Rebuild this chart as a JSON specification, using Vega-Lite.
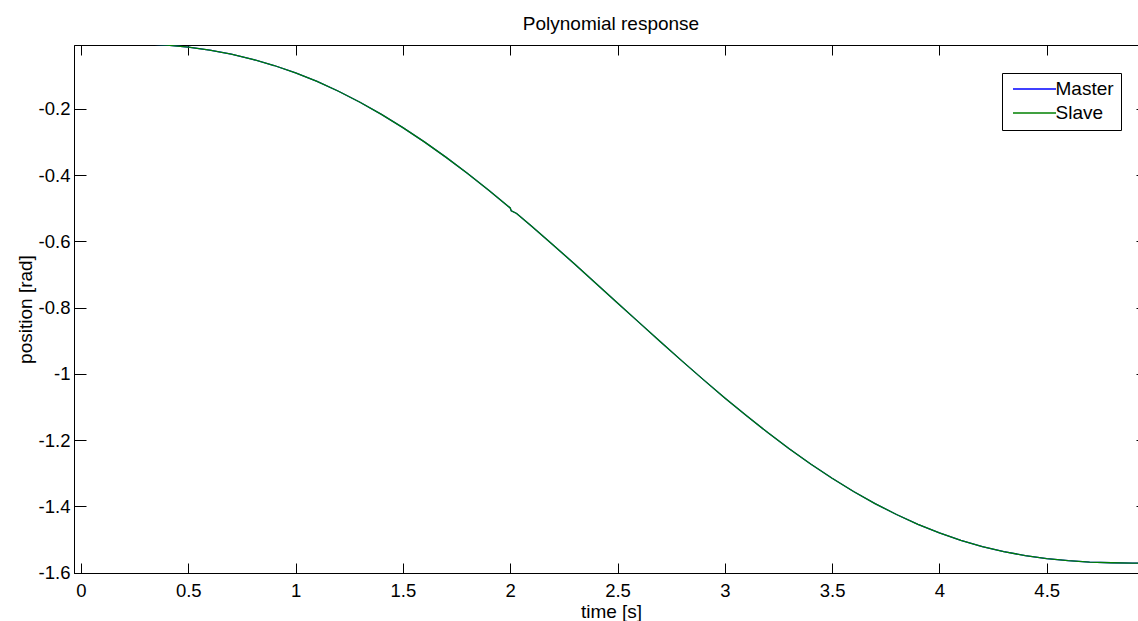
{
  "$schema": "https://vega.github.io/schema/vega-lite/v6.json",
  "width": 1074,
  "height": 528,
  "autosize": {"type": "none"},
  "padding": {"left": 74, "top": 45, "right": 0, "bottom": 48},
  "background": "white",
  "title": {"text": "Polynomial response", "fontSize": 19, "fontWeight": "normal", "font": "Liberation Sans", "color": "#000", "offset": 9, "anchor": "middle"},
  "config": {
    "view": {"stroke": "#000", "strokeWidth": 1},
    "axis": {"grid": false, "labelFont": "Liberation Sans", "titleFont": "Liberation Sans", "labelFontSize": 18.5, "titleFontSize": 19, "labelColor": "#000", "titleColor": "#000", "titleFontWeight": "normal", "domainColor": "#000", "tickColor": "#000", "labelFlush": false, "labelOverlap": false}
  },
  "data": {"values": [
    {"series": "Master", "t": 0, "pos": 0},
    {"series": "Master", "t": 0.1, "pos": -0.0001},
    {"series": "Master", "t": 0.2, "pos": -0.0009},
    {"series": "Master", "t": 0.3, "pos": -0.0031},
    {"series": "Master", "t": 0.4, "pos": -0.0071},
    {"series": "Master", "t": 0.5, "pos": -0.0134},
    {"series": "Master", "t": 0.6, "pos": -0.0225},
    {"series": "Master", "t": 0.7, "pos": -0.0346},
    {"series": "Master", "t": 0.8, "pos": -0.0499},
    {"series": "Master", "t": 0.9, "pos": -0.0687},
    {"series": "Master", "t": 1.0, "pos": -0.0910},
    {"series": "Master", "t": 1.1, "pos": -0.1169},
    {"series": "Master", "t": 1.2, "pos": -0.1465},
    {"series": "Master", "t": 1.3, "pos": -0.1796},
    {"series": "Master", "t": 1.4, "pos": -0.2162},
    {"series": "Master", "t": 1.5, "pos": -0.2562},
    {"series": "Master", "t": 1.6, "pos": -0.2993},
    {"series": "Master", "t": 1.7, "pos": -0.3453},
    {"series": "Master", "t": 1.8, "pos": -0.3941},
    {"series": "Master", "t": 1.9, "pos": -0.4453},
    {"series": "Master", "t": 2.0, "pos": -0.4986},
    {"series": "Master", "t": 2.005, "pos": -0.5075},
    {"series": "Master", "t": 2.03, "pos": -0.5155},
    {"series": "Master", "t": 2.1, "pos": -0.5538},
    {"series": "Master", "t": 2.2, "pos": -0.6104},
    {"series": "Master", "t": 2.3, "pos": -0.6681},
    {"series": "Master", "t": 2.4, "pos": -0.7266},
    {"series": "Master", "t": 2.5, "pos": -0.7854},
    {"series": "Master", "t": 2.6, "pos": -0.8442},
    {"series": "Master", "t": 2.7, "pos": -0.9027},
    {"series": "Master", "t": 2.8, "pos": -0.9604},
    {"series": "Master", "t": 2.9, "pos": -1.0170},
    {"series": "Master", "t": 3.0, "pos": -1.0722},
    {"series": "Master", "t": 3.1, "pos": -1.1255},
    {"series": "Master", "t": 3.2, "pos": -1.1767},
    {"series": "Master", "t": 3.3, "pos": -1.2255},
    {"series": "Master", "t": 3.4, "pos": -1.2715},
    {"series": "Master", "t": 3.5, "pos": -1.3146},
    {"series": "Master", "t": 3.6, "pos": -1.3546},
    {"series": "Master", "t": 3.7, "pos": -1.3912},
    {"series": "Master", "t": 3.8, "pos": -1.4243},
    {"series": "Master", "t": 3.9, "pos": -1.4539},
    {"series": "Master", "t": 4.0, "pos": -1.4798},
    {"series": "Master", "t": 4.1, "pos": -1.5021},
    {"series": "Master", "t": 4.2, "pos": -1.5209},
    {"series": "Master", "t": 4.3, "pos": -1.5362},
    {"series": "Master", "t": 4.4, "pos": -1.5483},
    {"series": "Master", "t": 4.5, "pos": -1.5574},
    {"series": "Master", "t": 4.6, "pos": -1.5637},
    {"series": "Master", "t": 4.7, "pos": -1.5677},
    {"series": "Master", "t": 4.8, "pos": -1.5699},
    {"series": "Master", "t": 4.9, "pos": -1.5707},
    {"series": "Master", "t": 5.0, "pos": -1.5708},
    {"series": "Slave", "t": 0, "pos": 0},
    {"series": "Slave", "t": 0.1, "pos": -0.0001},
    {"series": "Slave", "t": 0.2, "pos": -0.0009},
    {"series": "Slave", "t": 0.3, "pos": -0.0031},
    {"series": "Slave", "t": 0.4, "pos": -0.0071},
    {"series": "Slave", "t": 0.5, "pos": -0.0134},
    {"series": "Slave", "t": 0.6, "pos": -0.0225},
    {"series": "Slave", "t": 0.7, "pos": -0.0346},
    {"series": "Slave", "t": 0.8, "pos": -0.0499},
    {"series": "Slave", "t": 0.9, "pos": -0.0687},
    {"series": "Slave", "t": 1.0, "pos": -0.0910},
    {"series": "Slave", "t": 1.1, "pos": -0.1169},
    {"series": "Slave", "t": 1.2, "pos": -0.1465},
    {"series": "Slave", "t": 1.3, "pos": -0.1796},
    {"series": "Slave", "t": 1.4, "pos": -0.2162},
    {"series": "Slave", "t": 1.5, "pos": -0.2562},
    {"series": "Slave", "t": 1.6, "pos": -0.2993},
    {"series": "Slave", "t": 1.7, "pos": -0.3453},
    {"series": "Slave", "t": 1.8, "pos": -0.3941},
    {"series": "Slave", "t": 1.9, "pos": -0.4453},
    {"series": "Slave", "t": 2.0, "pos": -0.4986},
    {"series": "Slave", "t": 2.005, "pos": -0.5075},
    {"series": "Slave", "t": 2.03, "pos": -0.5155},
    {"series": "Slave", "t": 2.1, "pos": -0.5538},
    {"series": "Slave", "t": 2.2, "pos": -0.6104},
    {"series": "Slave", "t": 2.3, "pos": -0.6681},
    {"series": "Slave", "t": 2.4, "pos": -0.7266},
    {"series": "Slave", "t": 2.5, "pos": -0.7854},
    {"series": "Slave", "t": 2.6, "pos": -0.8442},
    {"series": "Slave", "t": 2.7, "pos": -0.9027},
    {"series": "Slave", "t": 2.8, "pos": -0.9604},
    {"series": "Slave", "t": 2.9, "pos": -1.0170},
    {"series": "Slave", "t": 3.0, "pos": -1.0722},
    {"series": "Slave", "t": 3.1, "pos": -1.1255},
    {"series": "Slave", "t": 3.2, "pos": -1.1767},
    {"series": "Slave", "t": 3.3, "pos": -1.2255},
    {"series": "Slave", "t": 3.4, "pos": -1.2715},
    {"series": "Slave", "t": 3.5, "pos": -1.3146},
    {"series": "Slave", "t": 3.6, "pos": -1.3546},
    {"series": "Slave", "t": 3.7, "pos": -1.3912},
    {"series": "Slave", "t": 3.8, "pos": -1.4243},
    {"series": "Slave", "t": 3.9, "pos": -1.4539},
    {"series": "Slave", "t": 4.0, "pos": -1.4798},
    {"series": "Slave", "t": 4.1, "pos": -1.5021},
    {"series": "Slave", "t": 4.2, "pos": -1.5209},
    {"series": "Slave", "t": 4.3, "pos": -1.5362},
    {"series": "Slave", "t": 4.4, "pos": -1.5483},
    {"series": "Slave", "t": 4.5, "pos": -1.5574},
    {"series": "Slave", "t": 4.6, "pos": -1.5637},
    {"series": "Slave", "t": 4.7, "pos": -1.5677},
    {"series": "Slave", "t": 4.8, "pos": -1.5699},
    {"series": "Slave", "t": 4.9, "pos": -1.5707},
    {"series": "Slave", "t": 5.0, "pos": -1.5708}
  ]},
  "layer": [
    {
      "mark": {"type": "line", "clip": true, "strokeWidth": 1.3},
      "encoding": {
        "x": {"field": "t", "type": "quantitative",
          "scale": {"domain": [-0.0326, 4.972], "nice": false, "zero": false},
          "axis": {"orient": "bottom", "values": [0, 0.5, 1, 1.5, 2, 2.5, 3, 3.5, 4, 4.5], "tickSize": -10, "labelPadding": 18, "title": "time [s]", "titlePadding": 3, "labelExpr": "'' + datum.value"}},
        "y": {"field": "pos", "type": "quantitative",
          "scale": {"domain": [-1.6008, -0.0068], "nice": false, "zero": false},
          "axis": {"orient": "left", "values": [-1.6, -1.4, -1.2, -1, -0.8, -0.6, -0.4, -0.2], "tickSize": -12, "labelPadding": 16, "title": "position [rad]", "titlePadding": 3, "labelExpr": "'' + round(datum.value * 10) / 10"}},
        "color": {"field": "series", "type": "nominal",
          "scale": {"domain": ["Master", "Slave"], "range": ["#0000ff", "#008000"]},
          "legend": {"orient": "none", "legendX": 928, "legendY": 28, "title": null, "symbolType": "M-1,0H7.6", "symbolSize": 100, "symbolStrokeWidth": 1.3, "symbolFillColor": "transparent", "labelFontSize": 19, "labelFont": "Liberation Sans", "labelColor": "#000", "strokeColor": "#000", "fillColor": "#fff", "padding": 6.5, "rowPadding": 4, "labelOffset": 28}}
      }
    },
    {
      "mark": {"type": "line", "opacity": 0},
      "encoding": {
        "x": {"field": "t", "type": "quantitative",
          "axis": {"orient": "top", "values": [0, 0.5, 1, 1.5, 2, 2.5, 3, 3.5, 4, 4.5], "tickSize": -10, "labels": false, "title": null, "domain": false}},
        "y": {"field": "pos", "type": "quantitative",
          "axis": {"orient": "right", "values": [-1.6, -1.4, -1.2, -1, -0.8, -0.6, -0.4, -0.2], "tickSize": -12, "labels": false, "title": null, "domain": false}}
      }
    }
  ],
  "resolve": {"axis": {"x": "independent", "y": "independent"}}
}
